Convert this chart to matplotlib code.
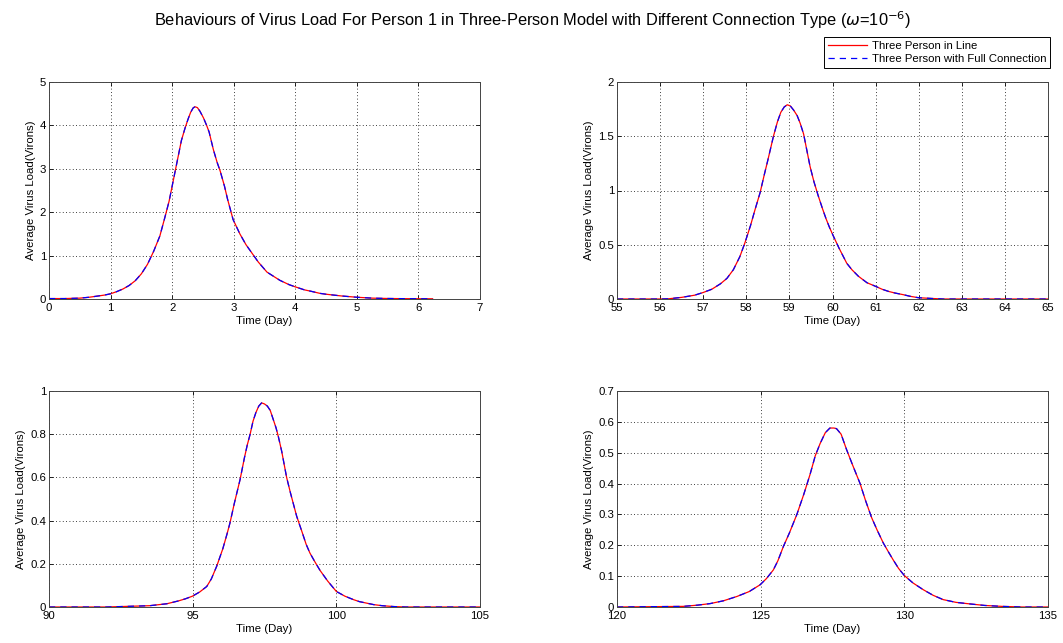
import matplotlib
matplotlib.use("Agg")
import matplotlib.pyplot as plt
from matplotlib.ticker import FuncFormatter

plt.rcParams['font.family'] = ['Liberation Sans', 'DejaVu Sans']

# Panel 1 (days 0-7)
t1 = [0, 0.25, 0.5, 0.65, 0.8, 0.9, 1.0, 1.1, 1.2, 1.3, 1.4, 1.5, 1.6, 1.7, 1.8, 1.88, 1.95, 2.0, 2.05, 2.1, 2.15,
      2.21, 2.26, 2.3, 2.34, 2.37, 2.41, 2.45, 2.51, 2.56, 2.6, 2.67, 2.73, 2.78, 2.85, 2.9, 2.99, 3.1, 3.2, 3.3,
      3.4, 3.54, 3.65, 3.75, 3.9, 4.0, 4.15, 4.25, 4.4, 4.5, 4.75, 5.0, 5.25, 5.5, 5.75, 6.0, 6.23]
line1 = [0.01, 0.01, 0.02, 0.04, 0.07, 0.09, 0.12, 0.17, 0.23, 0.31, 0.42, 0.58, 0.8, 1.1, 1.45, 1.87, 2.25, 2.6, 2.95,
         3.3, 3.65, 3.94, 4.15, 4.3, 4.4, 4.43, 4.41, 4.33, 4.17, 4.0, 3.85, 3.44, 3.15, 2.95, 2.6, 2.3, 1.83, 1.5,
         1.25, 1.05, 0.85, 0.62, 0.52, 0.43, 0.33, 0.28, 0.21, 0.18, 0.13, 0.11, 0.07, 0.04, 0.02, 0.012, 0.008,
         0.006, 0.005]
full1 = list(line1)

# Panel 2 (days 55-65)
t2 = [55, 55.5, 56, 56.2, 56.5, 56.8, 57.0, 57.2, 57.4, 57.55, 57.7, 57.85, 57.97, 58.1, 58.2, 58.32, 58.42, 58.5,
      58.63, 58.72, 58.8, 58.88, 58.95, 59.02, 59.1, 59.18, 59.25, 59.33, 59.4, 59.48, 59.57, 59.67, 59.77, 59.85,
      59.93, 60.02, 60.15, 60.33, 60.45, 60.6, 60.8, 60.98, 61.15, 61.3, 61.45, 61.64, 61.8, 61.99, 62.3, 62.57,
      63, 64, 65]
line2 = [0.0, 0.0, 0.0, 0.002, 0.015, 0.035, 0.06, 0.09, 0.14, 0.19, 0.27, 0.39, 0.52, 0.68, 0.82, 0.98, 1.15, 1.28,
         1.5, 1.63, 1.72, 1.77, 1.79, 1.78, 1.74, 1.69, 1.62, 1.52, 1.38, 1.22, 1.08, 0.95, 0.83, 0.74, 0.66, 0.58,
         0.47, 0.33, 0.27, 0.21, 0.15, 0.12, 0.09, 0.07, 0.055, 0.04, 0.025, 0.012, 0.005, 0.0, 0.0, 0.0, 0.0]
full2 = list(line2)

# Panel 3 (days 90-105)
t3 = [90, 92, 93.5, 94.1, 94.5, 94.75, 94.99, 95.25, 95.49, 95.65, 95.84, 96.05, 96.2, 96.3, 96.45, 96.65, 96.8,
      96.9, 97.0, 97.1, 97.2, 97.3, 97.4, 97.5, 97.6, 97.7, 97.8, 97.9, 97.98, 98.1, 98.27, 98.4, 98.5, 98.62,
      98.8, 98.95, 99.08, 99.25, 99.43, 99.7, 100.0, 100.3, 100.6, 100.8, 101.05, 101.3, 101.6, 102.0, 102.4,
      103, 105]
line3 = [0.0, 0.0, 0.006, 0.015, 0.028, 0.038, 0.05, 0.07, 0.095, 0.13, 0.19, 0.27, 0.34, 0.39, 0.48, 0.59, 0.69,
         0.75, 0.80, 0.86, 0.9, 0.93, 0.945, 0.94, 0.93, 0.91, 0.87, 0.83, 0.79, 0.72, 0.60, 0.53, 0.48, 0.42,
         0.35, 0.29, 0.25, 0.21, 0.17, 0.12, 0.072, 0.05, 0.034, 0.025, 0.018, 0.011, 0.006, 0.002, 0.0, 0.0, 0.0]
full3 = list(line3)

# Panel 4 (days 120-135)
t4 = [120, 122.3, 122.8, 123.24, 123.7, 124.17, 124.6, 124.98, 125.2, 125.44, 125.6, 125.79, 126.0, 126.26, 126.5,
      126.72, 126.9, 127.07, 127.25, 127.41, 127.55, 127.64, 127.8, 127.99, 128.2, 128.46, 128.65, 128.86, 129.05,
      129.27, 129.45, 129.61, 129.8, 130.0, 130.3, 130.66, 131.0, 131.35, 131.8, 132.28, 132.8, 133.4, 134.1, 135]
line4 = [0.0, 0.002, 0.006, 0.011, 0.02, 0.034, 0.05, 0.072, 0.092, 0.12, 0.15, 0.196, 0.24, 0.30, 0.365, 0.43,
         0.49, 0.53, 0.565, 0.58, 0.58, 0.578, 0.56, 0.51, 0.46, 0.40, 0.345, 0.29, 0.25, 0.207, 0.178, 0.153,
         0.125, 0.102, 0.078, 0.056, 0.038, 0.024, 0.015, 0.01, 0.005, 0.002, 0.0, 0.0]
full4 = list(line4)

xlims = [(0, 7), (55, 65), (90, 105), (120, 135)]
ylims = [(0, 5), (0, 2), (0, 1), (0, 0.7)]
xticks = [list(range(0, 8)), list(range(55, 66)), [90, 95, 100, 105], [120, 125, 130, 135]]
yticks = [[0, 1, 2, 3, 4, 5], [0, 0.5, 1, 1.5, 2], [0, 0.2, 0.4, 0.6, 0.8, 1], [0, 0.1, 0.2, 0.3, 0.4, 0.5, 0.6, 0.7]]

W, H = 1063, 643
fig = plt.figure(figsize=(W / 100, H / 100), dpi=100)

# axes rects in pixels: left, top, right, bottom
rects = [(49, 82, 480, 299), (617, 82, 1048, 299), (49, 391, 480, 607), (617, 391, 1048, 607)]
ts = [t1, t2, t3, t4]
lines = [line1, line2, line3, line4]
fulls = [full1, full2, full3, full4]

FS = 8.2
fmt = FuncFormatter(lambda v, p: '%g' % v)
handles = None
for i in range(4):
    l, t, r, b = rects[i]
    ax = fig.add_axes([l / W, 1 - b / H, (r - l) / W, (b - t) / H])
    h1, = ax.plot(ts[i], lines[i], color='red', lw=0.9, label='Three Person in Line')
    h2, = ax.plot(ts[i], fulls[i], color='blue', lw=0.9, ls=(0, (5, 4)), label='Three Person with Full Connection')
    handles = [h1, h2]
    ax.set_xlim(*xlims[i])
    ax.set_ylim(*ylims[i])
    ax.set_xticks(xticks[i])
    ax.set_yticks(yticks[i])
    ax.xaxis.set_major_formatter(fmt)
    ax.yaxis.set_major_formatter(fmt)
    ax.grid(True, color='black', ls=(0, (1, 3)), lw=0.6)
    ax.tick_params(direction='in', top=True, right=True, labelsize=FS, length=3, width=0.6)
    ax.tick_params(axis='x', pad=3)
    ax.tick_params(axis='y', pad=2)
    for s in ax.spines.values():
        s.set_linewidth(0.7)
        s.set_color('#444444')
    ax.set_xlabel('Time (Day)', fontsize=FS, labelpad=2)
    ax.set_ylabel('Average Virus Load(Virons)', fontsize=FS, labelpad=3)

fig.text(533 / W, 1 - 20 / H, r'Behaviours of Virus Load For Person 1 in Three-Person Model with Different Connection Type ($\omega$=10$^{-6}$)',
         ha='center', va='center', fontsize=11.8)

leg = fig.legend(handles=handles, loc='upper right', bbox_to_anchor=(1050 / W, 1 - 37 / H),
                 fontsize=FS, frameon=True, fancybox=False, edgecolor='black', framealpha=1,
                 handlelength=3.4, borderpad=0.35, labelspacing=0.3, handletextpad=0.4, borderaxespad=0)
leg.get_frame().set_linewidth(0.7)

fig.savefig('out.png', dpi=100)
